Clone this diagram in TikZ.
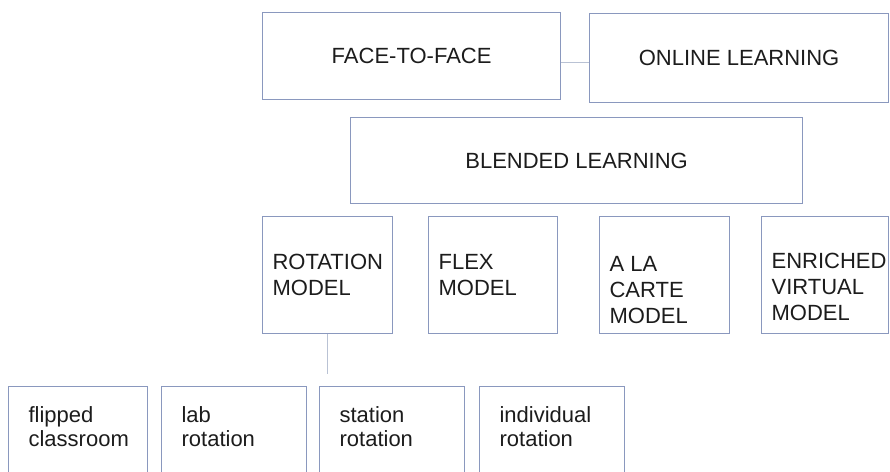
\documentclass[tikz,border=0pt]{standalone}
\usepackage{fontspec}
\setmainfont{Liberation Sans}
\definecolor{boxline}{RGB}{138,152,190}
\definecolor{linkline}{RGB}{185,194,212}
\definecolor{ink}{RGB}{28,28,28}
\hfuzz=20pt
\newcommand{\boxtext}[4]{\parbox[c][#2][t]{#1}{\raggedright\rule{0pt}{#3}#4}}

\begin{document}
\begin{tikzpicture}[x=1pt,y=-1pt,
    box/.style={draw=boxline,line width=1.2pt,rectangle,inner sep=0pt,anchor=north west,text=ink,font=\fontsize{22}{26}\selectfont},
    modelbox/.style={box,inner xsep=10pt},
    subbox/.style={box,inner xsep=20pt,font=\fontsize{22}{23.5}\selectfont},
    link/.style={draw=linkline,line width=1.1pt}]
        \useasboundingbox (0,0) rectangle (890,471);
        \clip (0,0) rectangle (890,471);
        \node[box,minimum width=298pt,minimum height=87pt] at (262,12) (face) {FACE-TO-FACE};
        \node[box,minimum width=299pt,minimum height=89pt] at (589,13) (online) {ONLINE LEARNING};
        \node[box,minimum width=452pt,minimum height=86pt] at (350,117) (blended) {BLENDED LEARNING};
        \node[modelbox] at (262,216) (rotation) {\boxtext{110pt}{117pt}{52.75pt}{ROTATION\\MODEL}};
        \node[modelbox] at (428,216) (flex) {\boxtext{109pt}{117pt}{52.75pt}{FLEX\\MODEL}};
        \node[modelbox] at (599,216) (carte) {\boxtext{110pt}{117pt}{54.5pt}{A LA\\CARTE\\MODEL}};
        \node[modelbox] at (761,216) (enriched) {\boxtext{107pt}{117pt}{51.75pt}{ENRICHED\\VIRTUAL\\MODEL}};
        \node[subbox] at (8,386) (flipped) {\boxtext{99pt}{117pt}{36pt}{flipped\\classroom}};
        \node[subbox] at (161,386) (lab) {\boxtext{105pt}{117pt}{36pt}{lab\\rotation}};
        \node[subbox] at (319,386) (station) {\boxtext{105pt}{117pt}{36pt}{station\\rotation}};
        \node[subbox] at (479,386) (individual) {\boxtext{105pt}{117pt}{36pt}{individual\\rotation}};
        \coordinate (tie) at ([yshift=-6.5pt]face.east);
        \coordinate (rotend) at ([yshift=-40pt]rotation.south);
        \draw[link] (tie) -- (tie -| online.west);
        \draw[link] (rotation) -- (rotend);
    \end{tikzpicture}
\end{document}
